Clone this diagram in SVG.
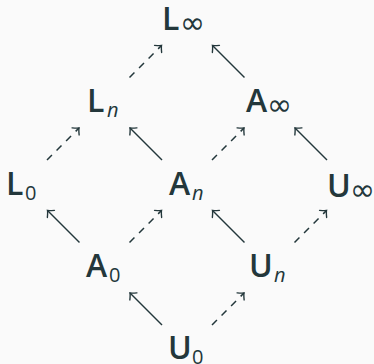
<svg xmlns="http://www.w3.org/2000/svg" width="374" height="364" viewBox="0 0 374 364">
<style>
.bg{fill:#fafafa}
text{fill:#23373b;font-family:"Open Sans","DejaVu Sans",sans-serif}
.m{font-size:32px;font-weight:600}
.s{font-size:20px;font-weight:400}
.n{font-size:20px;font-weight:400;font-style:italic}
.inf{font-size:30px;font-weight:400;font-family:"DejaVu Sans",sans-serif}
.e{stroke:#23373b;stroke-width:1.5;fill:none;marker-end:url(#ah)}
.d{stroke-dasharray:7 6.5}
</style>
<defs>
<marker id="ah" markerUnits="userSpaceOnUse" viewBox="-7 -7 10 14" refX="0" refY="0" markerWidth="10" markerHeight="14" orient="auto" overflow="visible">
<path d="M -4.8 -5 Q -1.5 -1 0 0 Q -1.5 1 -4.8 5" fill="none" stroke="#23373b" stroke-width="1.4" stroke-linecap="round"/>
</marker>
</defs>
<rect class="bg" width="374" height="364"/>
<g id="connectors">
<line class="e d" x1="129.5" y1="77.5" x2="161.5" y2="45.5"/>
<line class="e" x1="244.5" y1="77.5" x2="212.5" y2="45.5"/>
<line class="e d" x1="47" y1="160" x2="79" y2="128"/>
<line class="e" x1="162" y1="160" x2="130" y2="128"/>
<line class="e d" x1="212" y1="160" x2="244" y2="128"/>
<line class="e" x1="327" y1="160" x2="295" y2="128"/>
<line class="e" x1="79.5" y1="242.5" x2="47.5" y2="210.5"/>
<line class="e d" x1="129.5" y1="242.5" x2="161.5" y2="210.5"/>
<line class="e" x1="244.5" y1="242.5" x2="212.5" y2="210.5"/>
<line class="e d" x1="294.5" y1="242.5" x2="326.5" y2="210.5"/>
<line class="e" x1="162" y1="325" x2="130" y2="293"/>
<line class="e d" x1="212" y1="325" x2="244" y2="293"/>
</g>
<g id="Linf"><text class="m" x="162" y="30">L</text><text class="inf" x="180" y="33">∞</text></g>
<g id="Ln"><text class="m" x="87" y="112">L</text><text class="n" x="107" y="117">n</text></g>
<g id="Ainf"><text class="m" x="246" y="112">A</text><text class="inf" x="267" y="115">∞</text></g>
<g id="L0"><text class="m" x="6" y="195">L</text><text class="s" x="25" y="200">0</text></g>
<g id="An"><text class="m" x="169" y="195">A</text><text class="n" x="192" y="200">n</text></g>
<g id="Uinf"><text class="m" x="327" y="197">U</text><text class="inf" x="350" y="200">∞</text></g>
<g id="A0"><text class="m" x="86" y="277">A</text><text class="s" x="109" y="282">0</text></g>
<g id="Un"><text class="m" x="249" y="277">U</text><text class="n" x="274" y="282">n</text></g>
<g id="U0"><text class="m" x="168" y="359">U</text><text class="s" x="192" y="364">0</text></g>
</svg>
